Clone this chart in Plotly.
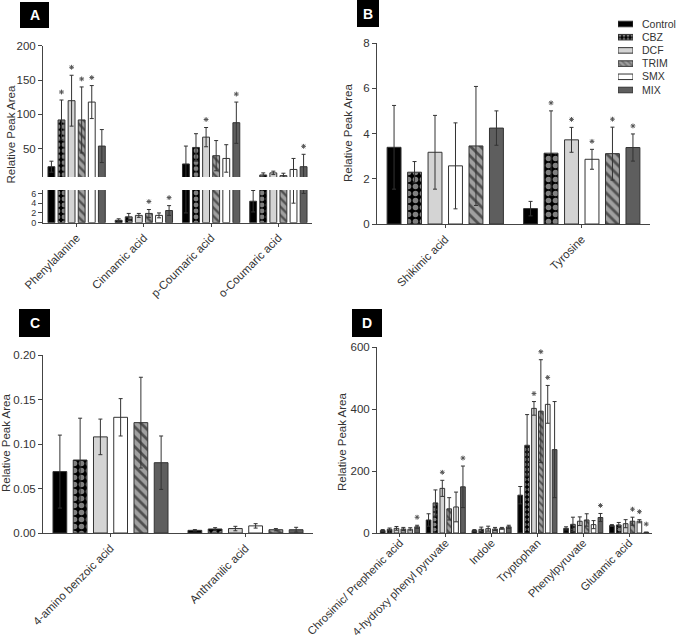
import plotly.graph_objects as go

W, H = 677, 643
FONT = "Liberation Sans, Arial, sans-serif"

# ---------------- data ----------------
series_AD = ["Control", "CBZ", "DCF", "TRIM", "SMX", "MIX"]
series_BC = ["Control", "CBZ", "DCF", "SMX", "TRIM", "MIX"]
legend_series = ["Control", "CBZ", "DCF", "TRIM", "SMX", "MIX"]

# Panel A
cats_A = ["Phenylalanine", "Cinnamic acid", "p-Coumaric acid", "o-Coumaric acid"]
A_control = [24, 0.5, 28, 4.4]
A_control_err = [8, 0.3, 26, 2.2]
A_cbz = [92, 1.2, 52, 12]
A_cbz_err = [29, 0.7, 20, 3]
A_dcf = [120, 1.5, 67, 15]
A_dcf_err = [37, 0.4, 14, 2.5]
A_trim = [92, 1.9, 40, 11]
A_trim_err = [48, 0.8, 22, 3.5]
A_smx = [118, 1.5, 36, 20]
A_smx_err = [24, 0.5, 20, 16]
A_mix = [54, 2.5, 88, 24]
A_mix_err = [24, 1.0, 30, 18]
A_stars = {"Control": [0, 0, 0, 0], "CBZ": [1, 0, 0, 0], "DCF": [1, 0, 1, 0],
           "TRIM": [1, 1, 0, 0], "SMX": [1, 0, 0, 0], "MIX": [0, 1, 1, 1]}

# Panel B
cats_B = ["Shikimic acid", "Tyrosine"]
B_control = [3.39, 0.68]
B_control_err = [1.85, 0.32]
B_cbz = [2.29, 3.13]
B_cbz_err = [0.47, 1.87]
B_dcf = [3.17, 3.72]
B_dcf_err = [1.63, 0.55]
B_smx = [2.57, 2.86]
B_smx_err = [1.90, 0.44]
B_trim = [3.45, 3.11]
B_trim_err = [2.63, 1.17]
B_mix = [4.24, 3.38]
B_mix_err = [0.76, 0.60]
B_stars = {"Control": [0, 0], "CBZ": [0, 1], "DCF": [0, 1],
           "SMX": [0, 1], "TRIM": [0, 1], "MIX": [0, 1]}

# Panel C
cats_C = ["4-amino benzoic acid", "Anthranilic acid"]
C_control = [0.069, 0.003]
C_control_err = [0.041, 0.0008]
C_cbz = [0.082, 0.0045]
C_cbz_err = [0.047, 0.0015]
C_dcf = [0.108, 0.005]
C_dcf_err = [0.020, 0.0025]
C_smx = [0.130, 0.008]
C_smx_err = [0.021, 0.0025]
C_trim = [0.124, 0.0037]
C_trim_err = [0.051, 0.0013]
C_mix = [0.079, 0.0037]
C_mix_err = [0.030, 0.0027]

# Panel D
cats_D = ["Chrosimic/ Prephenic acid", "4-hydroxy phenyl pyruvate", "Indole",
          "Tryptophan", "Phenylpyruvate", "Glutamic acid"]
D_control = [8, 42, 8, 122, 15, 24]
D_control_err = [3, 20, 3, 28, 5, 3]
D_cbz = [12, 97, 12, 283, 28, 26]
D_cbz_err = [4, 42, 7, 99, 23, 8]
D_dcf = [15, 144, 14, 402, 38, 30]
D_dcf_err = [6, 26, 8, 22, 14, 13]
D_trim = [13, 78, 13, 393, 42, 38]
D_trim_err = [5, 36, 5, 166, 20, 13]
D_smx = [12, 84, 15, 415, 27, 38]
D_smx_err = [5, 48, 3, 61, 13, 5]
D_mix = [20, 149, 20, 269, 50, 2]
D_mix_err = [5, 67, 5, 155, 13, 1]
D_stars = {"Control": [0, 0, 0, 0, 0, 0], "CBZ": [0, 0, 0, 0, 0, 0],
           "DCF": [0, 1, 0, 1, 0, 0], "TRIM": [0, 0, 0, 1, 0, 1],
           "SMX": [0, 0, 0, 1, 0, 1], "MIX": [1, 1, 0, 0, 1, 1]}

# ---------------- styles ----------------
STY = {
    "Control": dict(bg="#000000", shape="", fg="#000000"),
    "CBZ": dict(bg="#000000", shape=".", fg="#ffffff"),
    "DCF": dict(bg="#d4d4d4", shape="", fg="#d4d4d4"),
    "TRIM": dict(bg="#a0a0a0", shape="\\", fg="#000000"),
    "SMX": dict(bg="#ffffff", shape="", fg="#ffffff"),
    "MIX": dict(bg="#5e5e5e", shape="", fg="#5e5e5e"),
}
STAR_COLOR = "#555555"
STAR_GAP_PX = 8

# panel pixel frames: (x_left, x_right, y_bottom, y_top)
FR_A_UP = (43, 312, 177, 45.7)
FR_A_LO = (43, 312, 222.7, 190)
FR_B = (377, 650, 224, 43)
FR_C = (43, 313, 533, 355)
FR_D = (377, 652, 533, 347)
FR_LEG = (618, 633, 96.6, 17.4)

A_up_range = [9, 200]
A_lo_range = [0, 6.7]
B_range = [0, 8]
C_range = [0, 0.2]
D_range = [0, 600]


def marker_for(name, psize=6):
    s = STY[name]
    m = dict(color=s["bg"], line=dict(color="#333333", width=1))
    if s["shape"]:
        sol = 0.5 if s["shape"] == "." else 0.4
        m["pattern"] = dict(shape=s["shape"], fgcolor=s["fg"], bgcolor=s["bg"],
                            size=psize, solidity=sol, fillmode="overlay")
    return m


fig = go.Figure()


def add_panel(xa, ya, cats, order, means, errs, frame, yrange, stars=None, psize=6):
    for name in order:
        m, e = means[name], errs[name]
        fig.add_trace(go.Bar(
            x=cats, y=m, name=name, xaxis=xa, yaxis=ya, showlegend=False,
            marker=marker_for(name, psize),
            error_y=dict(type="data", array=e, visible=True, color="#333333",
                         thickness=1, width=2),
        ))
    per_px = (yrange[1] - yrange[0]) / (frame[2] - frame[3])
    for name in order:
        m, e = means[name], errs[name]
        sy = []
        for i in range(len(cats)):
            top = m[i] + e[i]
            flag = stars is not None and stars[name][i] and yrange[0] < top <= yrange[1]
            sy.append(top + STAR_GAP_PX * per_px if flag else None)
        fig.add_trace(go.Scatter(
            x=cats, y=sy, mode="markers",
            marker=dict(symbol="asterisk-open", size=4, color=STAR_COLOR,
                        line=dict(color=STAR_COLOR, width=1)),
            xaxis=xa, yaxis=ya, showlegend=False, cliponaxis=False,
            hoverinfo="skip",
        ))


A_means = {"Control": A_control, "CBZ": A_cbz, "DCF": A_dcf, "TRIM": A_trim, "SMX": A_smx, "MIX": A_mix}
A_errs = {"Control": A_control_err, "CBZ": A_cbz_err, "DCF": A_dcf_err, "TRIM": A_trim_err, "SMX": A_smx_err, "MIX": A_mix_err}
B_means = {"Control": B_control, "CBZ": B_cbz, "DCF": B_dcf, "SMX": B_smx, "TRIM": B_trim, "MIX": B_mix}
B_errs = {"Control": B_control_err, "CBZ": B_cbz_err, "DCF": B_dcf_err, "SMX": B_smx_err, "TRIM": B_trim_err, "MIX": B_mix_err}
C_means = {"Control": C_control, "CBZ": C_cbz, "DCF": C_dcf, "SMX": C_smx, "TRIM": C_trim, "MIX": C_mix}
C_errs = {"Control": C_control_err, "CBZ": C_cbz_err, "DCF": C_dcf_err, "SMX": C_smx_err, "TRIM": C_trim_err, "MIX": C_mix_err}
D_means = {"Control": D_control, "CBZ": D_cbz, "DCF": D_dcf, "TRIM": D_trim, "SMX": D_smx, "MIX": D_mix}
D_errs = {"Control": D_control_err, "CBZ": D_cbz_err, "DCF": D_dcf_err, "TRIM": D_trim_err, "SMX": D_smx_err, "MIX": D_mix_err}

add_panel("x", "y", cats_A, series_AD, A_means, A_errs, FR_A_UP, A_up_range, A_stars, 6)
add_panel("x2", "y2", cats_A, series_AD, A_means, A_errs, FR_A_LO, A_lo_range, A_stars, 6)
add_panel("x3", "y3", cats_B, series_BC, B_means, B_errs, FR_B, B_range, B_stars, 7)
add_panel("x4", "y4", cats_C, series_BC, C_means, C_errs, FR_C, C_range, None, 7)
add_panel("x5", "y5", cats_D, series_AD, D_means, D_errs, FR_D, D_range, D_stars, 5)

# legend drawn as a tiny horizontal bar chart
fig.add_trace(go.Bar(
    y=legend_series, x=[1] * len(legend_series), orientation="h", width=0.42,
    xaxis="x6", yaxis="y6", showlegend=False, hoverinfo="skip",
    marker=dict(
        color=[STY[n]["bg"] for n in legend_series],
        line=dict(color="#333333", width=1),
        pattern=dict(shape=[STY[n]["shape"] for n in legend_series],
                     fgcolor=[STY[n]["fg"] for n in legend_series],
                     bgcolor=[STY[n]["bg"] for n in legend_series],
                     size=4, solidity=0.45, fillmode="overlay"),
    ),
))


def px_x(p):
    return p / W


def px_y(p):
    return 1 - p / H


def xdom(fr):
    return [px_x(fr[0]), px_x(fr[1])]


def ydom(fr):
    return [px_y(fr[2]), px_y(fr[3])]


axis_common = dict(showline=True, linecolor="#444444", linewidth=1, ticks="outside",
                   ticklen=4, tickcolor="#444444", showgrid=False, zeroline=False,
                   automargin=False,
                   tickfont=dict(size=11.5, color="#333333", family=FONT))
xcat = dict(axis_common, tickangle=-45, ticklen=3,
            tickfont=dict(size=11.5, color="#333333", family=FONT))

layout = dict(
    template="none",
    width=W, height=H, margin=dict(l=0, r=0, t=0, b=0, autoexpand=False),
    paper_bgcolor="white", plot_bgcolor="white",
    barmode="group", bargap=0.1, bargroupgap=0.32,
    scattermode="group",
    font=dict(family=FONT, color="#333333"),
    # Panel A upper
    xaxis=dict(axis_common, domain=xdom(FR_A_UP), anchor="y", matches="x2",
               showline=False, ticks="", showticklabels=False),
    yaxis=dict(axis_common, domain=ydom(FR_A_UP), anchor="x", range=A_up_range,
               tickvals=[50, 100, 150, 200]),
    # Panel A lower
    xaxis2=dict(xcat, domain=xdom(FR_A_LO), anchor="y2"),
    yaxis2=dict(axis_common, domain=ydom(FR_A_LO), anchor="x2", range=A_lo_range,
                tickvals=[0, 2, 4, 6],
                tickfont=dict(size=9, color="#333333", family=FONT)),
    # Panel B
    xaxis3=dict(xcat, domain=xdom(FR_B), anchor="y3"),
    yaxis3=dict(axis_common, domain=ydom(FR_B), anchor="x3", range=B_range,
                tickvals=[0, 2, 4, 6, 8]),
    # Panel C
    xaxis4=dict(xcat, domain=xdom(FR_C), anchor="y4"),
    yaxis4=dict(axis_common, domain=ydom(FR_C), anchor="x4", range=C_range,
                tickvals=[0, 0.05, 0.10, 0.15, 0.20], tickformat=".2f"),
    # Panel D
    xaxis5=dict(xcat, domain=xdom(FR_D), anchor="y5", ticklabelstandoff=-5,
                tickfont=dict(size=11.2, color="#333333", family=FONT)),
    yaxis5=dict(axis_common, domain=ydom(FR_D), anchor="x5", range=D_range,
                tickvals=[0, 200, 400, 600]),
    # legend axes
    xaxis6=dict(domain=xdom(FR_LEG), anchor="y6", range=[0, 1], visible=False,
                fixedrange=True, automargin=False),
    yaxis6=dict(domain=ydom(FR_LEG), anchor="x6", side="right",
                autorange="reversed", showline=False, ticks="", showgrid=False,
                zeroline=False, ticklabelstandoff=8, automargin=False,
                tickmode="array", tickvals=legend_series,
                tickfont=dict(size=10.5, color="#333333", family=FONT)),
)

shapes = []
annotations = []
for (lab, x0, x1, y0, y1) in [("A", 20, 49, 2, 28), ("B", 357, 379, 0, 27),
                              ("C", 19, 50, 309, 337), ("D", 352, 382, 309, 337)]:
    shapes.append(dict(type="rect", xref="paper", yref="paper", x0=px_x(x0), x1=px_x(x1),
                       y0=px_y(y1), y1=px_y(y0), fillcolor="black", line=dict(width=0)))
    annotations.append(dict(text="<b>%s</b>" % lab, xref="paper", yref="paper",
                            x=px_x((x0 + x1) / 2), y=px_y((y0 + y1) / 2), showarrow=False,
                            xanchor="center", yanchor="middle",
                            font=dict(size=14, color="white", family=FONT)))

for (cx, cy) in [(10.5, 135), (348, 133), (6, 443), (342, 442)]:
    annotations.append(dict(text="Relative Peak Area", xref="paper", yref="paper",
                            x=px_x(cx), y=px_y(cy), showarrow=False, textangle=-90,
                            xanchor="center", yanchor="middle",
                            font=dict(size=11.5, color="#333333", family=FONT)))

layout["shapes"] = shapes
layout["annotations"] = annotations
fig.update_layout(layout)

fig.write_html("out.html")
